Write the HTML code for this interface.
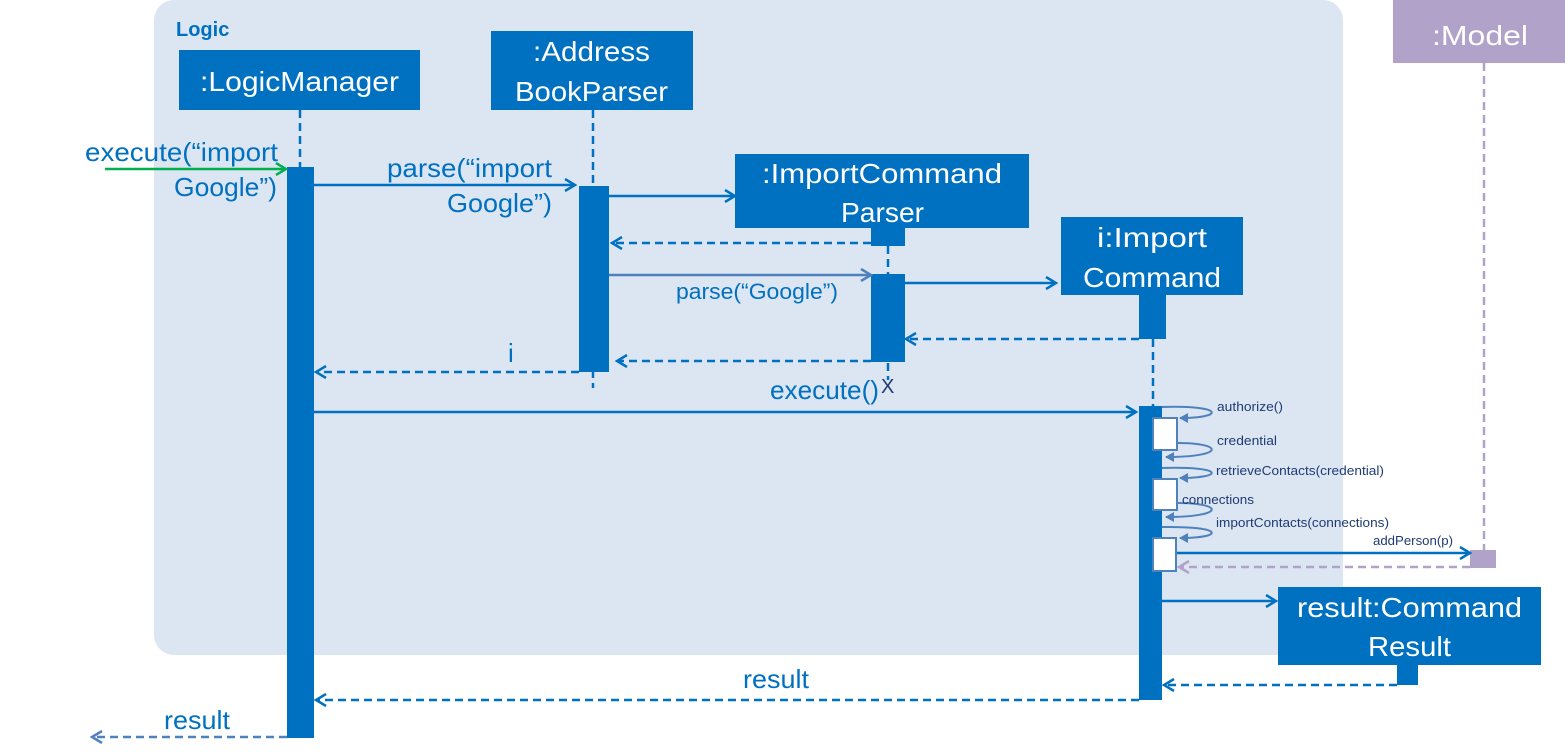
<!DOCTYPE html>
<html><head><meta charset="utf-8"><style>body{margin:0;background:#fff}svg{display:block}text{font-family:"Liberation Sans",sans-serif}</style></head><body>
<svg width="1565" height="755" viewBox="0 0 1565 755" xmlns="http://www.w3.org/2000/svg">
<defs>
<marker id="a" markerWidth="14" markerHeight="14" refX="12" refY="7" orient="auto" markerUnits="userSpaceOnUse"><path d="M2,1 L12,7 L2,13" fill="none" stroke="#0070c0" stroke-width="2.5"/></marker>
<marker id="al" markerWidth="14" markerHeight="14" refX="12" refY="7" orient="auto" markerUnits="userSpaceOnUse"><path d="M2,1 L12,7 L2,13" fill="none" stroke="#4f81bd" stroke-width="2.5"/></marker>
<marker id="ag" markerWidth="14" markerHeight="14" refX="12" refY="7" orient="auto" markerUnits="userSpaceOnUse"><path d="M2,1 L12,7 L2,13" fill="none" stroke="#00b050" stroke-width="2.5"/></marker>
<marker id="ap" markerWidth="14" markerHeight="14" refX="12" refY="7" orient="auto" markerUnits="userSpaceOnUse"><path d="M2,1 L12,7 L2,13" fill="none" stroke="#b1a2ca" stroke-width="2.5"/></marker>
<marker id="s" markerWidth="10" markerHeight="10" refX="8" refY="5" orient="auto" markerUnits="userSpaceOnUse"><path d="M0,0 L9,5 L0,10 Z" fill="#4f81bd"/></marker>
</defs>
<rect x="154" y="0" width="1189" height="655" rx="20" fill="#dce6f2"/>
<text x="176" y="36" font-size="20" font-weight="bold" fill="#0070c0">Logic</text>

<g stroke="#0070c0" stroke-width="2.5" stroke-dasharray="8,5" fill="none">
<line x1="300" y1="110" x2="300" y2="167"/>
<line x1="593" y1="110" x2="593" y2="388"/>
<line x1="888" y1="246" x2="888" y2="380"/>
<line x1="1153" y1="339" x2="1153" y2="406"/>
</g>
<line x1="1484" y1="63" x2="1484" y2="550" stroke="#b1a2ca" stroke-width="2.5" stroke-dasharray="8,5"/>

<g fill="#0070c0">
<rect x="179" y="50" width="241" height="60"/>
<rect x="491" y="31" width="202" height="79"/>
<rect x="735" y="154" width="294" height="74"/>
<rect x="1061" y="217" width="182" height="78"/>
<rect x="1278" y="587" width="263" height="78"/>
<rect x="287" y="167" width="27" height="571"/>
<rect x="579" y="186" width="30" height="186"/>
<rect x="871" y="228" width="34" height="18"/>
<rect x="871" y="274" width="34" height="88"/>
<rect x="1139" y="295" width="27" height="44"/>
<rect x="1139" y="406" width="23" height="294"/>
<rect x="1397" y="665" width="21" height="20"/>
</g>
<rect x="1393" y="0" width="172" height="63" fill="#b1a2ca"/>
<rect x="1470" y="550" width="26" height="18" fill="#b1a2ca"/>

<g fill="#fff" font-size="28" lengthAdjust="spacingAndGlyphs">
<text x="200" y="91" textLength="199" lengthAdjust="spacingAndGlyphs">:LogicManager</text>
<text x="533" y="61" textLength="117" lengthAdjust="spacingAndGlyphs">:Address</text>
<text x="515" y="101" textLength="153" lengthAdjust="spacingAndGlyphs">BookParser</text>
<text x="762" y="183" textLength="240" lengthAdjust="spacingAndGlyphs">:ImportCommand</text>
<text x="841" y="222" textLength="83" lengthAdjust="spacingAndGlyphs">Parser</text>
<text x="1097" y="247" textLength="110" lengthAdjust="spacingAndGlyphs">i:Import</text>
<text x="1083" y="287" textLength="138" lengthAdjust="spacingAndGlyphs">Command</text>
<text x="1297" y="617" textLength="225" lengthAdjust="spacingAndGlyphs">result:Command</text>
<text x="1368" y="656" textLength="83" lengthAdjust="spacingAndGlyphs">Result</text>
<text x="1432" y="45" textLength="96" lengthAdjust="spacingAndGlyphs">:Model</text>
</g>

<g stroke="#0070c0" stroke-width="2.5" fill="none">
<line x1="105" y1="169" x2="286" y2="169" stroke="#00b050" marker-end="url(#ag)"/>
<line x1="314" y1="185" x2="575" y2="185" marker-end="url(#a)"/>
<line x1="609" y1="196" x2="735" y2="196" marker-end="url(#a)"/>
<line x1="871" y1="243" x2="612" y2="243" stroke-dasharray="8,5" marker-end="url(#a)"/>
<line x1="609" y1="275" x2="871" y2="275" stroke="#4f81bd" marker-end="url(#al)"/>
<line x1="905" y1="283" x2="1056" y2="283" marker-end="url(#a)"/>
<line x1="1139" y1="339" x2="906" y2="339" stroke-dasharray="8,5" marker-end="url(#a)"/>
<line x1="871" y1="361" x2="617" y2="361" stroke-dasharray="8,5" marker-end="url(#a)"/>
<line x1="579" y1="372" x2="316" y2="372" stroke-dasharray="8,5" marker-end="url(#a)"/>
<line x1="314" y1="412" x2="1136" y2="412" marker-end="url(#a)"/>
<line x1="1162" y1="601" x2="1276" y2="601" marker-end="url(#a)"/>
<line x1="1397" y1="685" x2="1164" y2="685" stroke-dasharray="8,5" marker-end="url(#a)"/>
<line x1="1139" y1="700" x2="316" y2="700" stroke-dasharray="8,5" marker-end="url(#a)"/>
<line x1="287" y1="737" x2="92" y2="737" stroke="#4f81bd" stroke-dasharray="8,5" marker-end="url(#al)"/>
<line x1="1177" y1="553" x2="1470" y2="553" marker-end="url(#a)"/>
<line x1="1470" y1="567" x2="1179" y2="567" stroke="#b1a2ca" stroke-dasharray="8,5" marker-end="url(#ap)"/>
</g>

<g stroke="#4f81bd" stroke-width="2" fill="none" marker-end="url(#s)">
<path d="M1162,407 C1225,405 1225,418 1180,418"/>
<path d="M1177,443 C1225,443 1225,457 1166,457"/>
<path d="M1162,468 C1225,466 1225,478 1180,478"/>
<path d="M1177,503 C1225,503 1225,517 1166,517"/>
<path d="M1162,527 C1225,526 1225,538 1180,538"/>
</g>
<g fill="#fff" stroke="#4f81bd" stroke-width="2">
<rect x="1153" y="418" width="24" height="32"/>
<rect x="1153" y="479" width="24" height="31"/>
<rect x="1153" y="538" width="23" height="33"/>
</g>
<g fill="#1f3b73" font-size="13">
<text x="1217" y="411" textLength="66" lengthAdjust="spacingAndGlyphs">authorize()</text>
<text x="1217" y="445" textLength="60" lengthAdjust="spacingAndGlyphs">credential</text>
<text x="1216" y="475" textLength="168" lengthAdjust="spacingAndGlyphs">retrieveContacts(credential)</text>
<text x="1182" y="504" textLength="72" lengthAdjust="spacingAndGlyphs">connections</text>
<text x="1216" y="527" textLength="173" lengthAdjust="spacingAndGlyphs">importContacts(connections)</text>
<text x="1373" y="545" textLength="80" lengthAdjust="spacingAndGlyphs">addPerson(p)</text>
</g>

<g fill="#0070c0" font-size="26">
<text x="85" y="161" textLength="193" lengthAdjust="spacingAndGlyphs">execute(“import</text>
<text x="174" y="196" textLength="103" lengthAdjust="spacingAndGlyphs">Google”)</text>
<text x="387" y="177" textLength="165" lengthAdjust="spacingAndGlyphs">parse(“import</text>
<text x="447" y="212" textLength="105" lengthAdjust="spacingAndGlyphs">Google”)</text>
<text x="676" y="299" font-size="22" textLength="162" lengthAdjust="spacingAndGlyphs">parse(“Google”)</text>
<text x="508" y="362">i</text>
<text x="770" y="399" textLength="109" lengthAdjust="spacingAndGlyphs">execute()</text>
<text x="743" y="688" textLength="66" lengthAdjust="spacingAndGlyphs">result</text>
<text x="164" y="729" textLength="66" lengthAdjust="spacingAndGlyphs">result</text>
</g>
<text x="881" y="393" font-size="20" fill="#1f3b73">X</text>
</svg>
</body></html>
